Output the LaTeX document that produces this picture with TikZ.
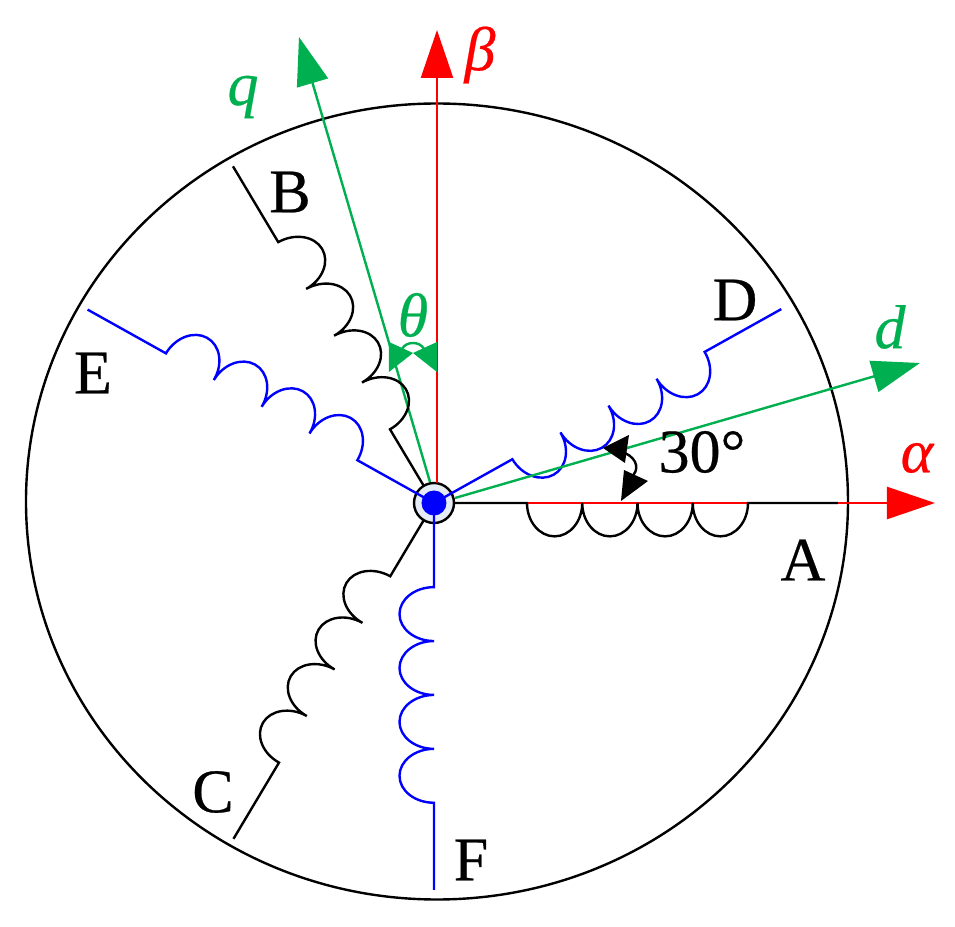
\documentclass[tikz,border=0pt]{standalone}
\usepackage{fontspec}
\setmainfont[RawFeature={embolden=0.4}]{Liberation Serif}
\usetikzlibrary{arrows.meta}
\definecolor{vert}{HTML}{00B050}
\definecolor{rouge}{HTML}{FF0000}
\definecolor{bleu}{HTML}{0000FF}
\definecolor{moyeu}{HTML}{E6ECF6}
\tikzset{
    trait/.style={line width=1.2pt},
    axe/.style={trait, -{Triangle[length=24pt,width=16pt]}},
    lettre/.style={font=\fontsize{31}{31}\selectfont, inner sep=0pt},
    grec/.style={font=\fontsize{31}{31}\selectfont\itshape, inner sep=0pt}
}
% angle, couleur, debut, debut bobine, fin bobine, fin
\newcommand{\bobine}[6]{
    \draw[trait, #2, yscale=0.967, rotate=#1] (#3,0) -- (#4,0)
        \foreach \i in {1,...,4}{ arc[start angle=180, end angle=360, x radius={(#5-#4)/8}, y radius=34.5] }
        -- (#6,0);
}
\begin{document}
\begin{tikzpicture}[x=0.5pt, y=0.5pt]
    \useasboundingbox (-434,-424) rectangle (521,503);
    \coordinate (O) at (0,0);

    % Cercle du stator et moyeu
    \draw[trait] (3,1.5) ellipse [x radius=411, y radius=398];
    \draw[trait, fill=moyeu] (O) circle (20);

    % Enroulements bleus
    \bobine{30}{bleu}{0}{90.5}{312.5}{401}
    \bobine{150}{bleu}{0}{88.5}{309.5}{400}
    \bobine{270}{bleu}{0}{87}{310}{400}

    % Axes alpha et beta
    \coordinate (alphaDeb) at (93,0);
    \coordinate (alphaFin) at (501,0);
    \coordinate (betaDeb) at (3,20);
    \coordinate (betaFin) at (3,473);
    \draw[axe, rouge] (alphaDeb) -- (alphaFin);
    \draw[axe, rouge] (betaDeb) -- (betaFin);

    % Axes d et q
    \coordinate (dDeb) at (21,5);
    \coordinate (dFin) at (486,140);
    \coordinate (qDeb) at (-4,21);
    \coordinate (qFin) at (-135,466);
    \draw[axe, vert] (dDeb) -- (dFin);
    \draw[axe, vert] (qDeb) -- (qFin);

    % Enroulements noirs
    \bobine{0}{black}{20}{93}{314}{404}
    \bobine{120}{black}{20}{88}{311.5}{402}
    \bobine{240}{black}{20}{87.5}{310}{401}

    % Point central
    \fill[bleu] (O) circle (12.5);

    % Angle theta
    \fill[vert] (-45,161) -- (-45,131) -- (-21,150) -- cycle;
    \fill[vert] (3,161) -- (3,131) -- (-21,150) -- cycle;
    \draw[trait, vert] (-32,154) .. controls (-28,162) and (-14,162) .. (-10,154);

    % Angle de 30 degres
    \fill (195,68) -- (169,55) -- (191,40) -- cycle;
    \fill (190,33) -- (214,22) -- (187,2) -- cycle;
    \draw[trait] (191,50) .. controls (204,44) and (206,32) .. (196,25);

    % Textes
    \node[lettre] (nA) at (369,-57) {A};
    \node[lettre] (nB) at (-144,311) {B};
    \node[lettre] (nC) at (-221,-289) {C};
    \node[lettre] (nD) at (301,203) {D};
    \node[lettre] (nE) at (-341,130) {E};
    \node[lettre] (nF) at (37,-357) {F};
    \node[lettre] (nTrente) at (268,51) {30°};
    \node[grec, rouge] (nAlpha) at (483,45) {α};
    \node[grec, rouge] (nBeta) at (46,448) {β};
    \node[grec, vert] (nD2) at (456,176) {d};
    \node[grec, vert] (nQ) at (-191,406) {q};
    \node[grec, vert] (nTheta) at (-21,188) {θ};
\end{tikzpicture}
\end{document}
